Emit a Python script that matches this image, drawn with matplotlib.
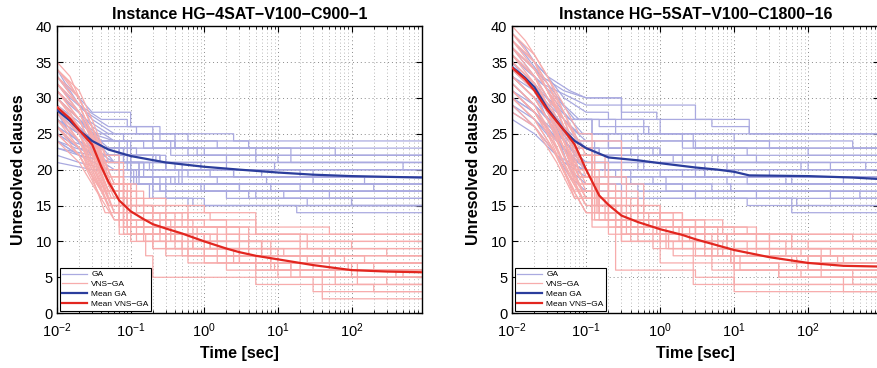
import matplotlib
matplotlib.use("Agg")
import matplotlib.pyplot as plt
from matplotlib.ticker import LogLocator, MultipleLocator

plt.rcParams['font.family'] = ['Liberation Sans', 'DejaVu Sans']
plt.rcParams['mathtext.default'] = 'regular'

T_END = 900

# ---- instance 1: HG-4SAT-V100-C900-1 ----
# each run: (time, unresolved clauses) breakpoints
ga_runs_1 = [
    [(0.01, 33), (0.014, 31), (0.02, 29), (0.04, 27), (0.09, 26), (0.25, 25), (2.5, 24)],
    [(0.01, 31), (0.015, 29), (0.025, 27), (0.05, 25), (0.2, 24), (1.5, 23)],
    [(0.01, 30), (0.02, 27), (0.035, 25), (0.08, 24), (0.4, 23), (15, 22)],
    [(0.01, 29), (0.018, 27), (0.03, 25), (0.06, 24), (0.15, 23), (0.6, 22)],
    [(0.01, 28), (0.016, 26), (0.03, 24), (0.1, 23), (0.8, 22), (5, 21)],
    [(0.01, 27), (0.02, 25), (0.04, 23), (0.12, 22), (0.3, 21)],
    [(0.01, 26), (0.015, 24), (0.03, 23), (0.07, 22), (0.25, 21), (2, 20)],
    [(0.01, 25), (0.02, 23), (0.05, 22), (0.2, 21), (0.5, 20)],
    [(0.01, 24), (0.018, 23), (0.04, 22), (0.1, 21), (0.3, 20), (20, 19)],
    [(0.01, 23), (0.02, 22), (0.06, 21), (0.15, 20), (1.2, 19)],
    [(0.01, 32), (0.02, 28), (0.03, 25), (0.05, 23), (0.1, 21), (0.18, 20), (0.6, 19), (30, 18)],
    [(0.01, 27), (0.02, 24), (0.04, 22), (0.09, 20), (0.2, 19), (0.5, 18)],
    [(0.01, 29), (0.02, 26), (0.04, 23), (0.08, 21), (0.13, 19), (0.35, 18), (8, 17)],
    [(0.01, 25), (0.02, 23), (0.05, 21), (0.1, 19), (0.2, 17)],
    [(0.01, 30), (0.02, 27), (0.035, 24), (0.06, 21), (0.1, 19), (0.25, 17), (2, 16)],
    [(0.01, 26), (0.02, 24), (0.04, 22), (0.07, 20), (0.13, 18), (0.3, 16), (1, 15)],
    [(0.01, 22), (0.02, 21), (0.05, 20), (0.12, 18), (0.2, 16), (0.6, 15)],
    [(0.01, 28), (0.015, 25), (0.03, 22), (0.06, 20), (0.11, 18), (0.18, 16), (0.7, 15), (18, 14)],
    [(0.01, 21), (0.03, 20), (0.08, 19), (0.2, 18), (3, 17)],
    [(0.01, 24), (0.02, 22), (0.05, 20), (0.1, 18), (0.25, 17), (4, 16), (100, 15)],
    [(0.01, 34), (0.013, 32), (0.02, 30), (0.03, 28), (0.1, 26), (0.2, 25), (0.4, 23), (5, 22), (15, 21)],
    [(0.01, 31), (0.02, 28), (0.03, 26), (0.06, 24), (0.2, 23), (1, 22), (10, 21), (500, 20)],
    [(0.01, 23), (0.03, 22), (0.1, 21), (0.3, 20), (2.5, 19), (150, 18)],
    [(0.01, 27), (0.02, 25), (0.04, 23), (0.08, 21), (0.3, 20), (6, 19)],
    [(0.01, 32), (0.015, 30), (0.025, 28), (0.05, 26), (0.12, 25), (0.6, 24), (4, 23), (60, 22)],
    [(0.01, 29), (0.02, 26), (0.03, 24), (0.07, 22), (0.25, 21), (0.9, 20), (30, 19)],
    [(0.01, 26), (0.02, 24), (0.05, 21), (0.15, 20), (0.5, 19), (1.5, 18), (20, 17)],
    [(0.01, 30), (0.02, 27), (0.04, 24), (0.09, 22), (0.22, 21), (0.4, 20), (2.5, 19), (7, 18), (200, 17)],
    [(0.01, 28), (0.02, 25), (0.03, 23), (0.06, 21), (0.2, 20), (0.45, 18), (1, 17), (12, 16)],
    [(0.01, 24), (0.02, 22), (0.05, 21), (0.13, 19), (0.3, 18), (3, 17), (50, 16), (100, 15)],
    [(0.01, 33), (0.015, 31), (0.02, 29), (0.03, 27), (0.06, 25), (0.25, 24), (0.35, 22), (2, 21), (9, 20)],
    [(0.01, 27), (0.02, 25), (0.035, 23), (0.07, 21), (0.15, 19), (0.4, 18), (0.9, 17), (5, 16), (25, 15)],
]
vns_runs_1 = [
    [(0.01, 35), (0.015, 33), (0.02, 30), (0.03, 26), (0.04, 22), (0.06, 18), (0.1, 15), (0.3, 13), (1, 12), (5, 11)],
    [(0.01, 34), (0.015, 32), (0.025, 28), (0.035, 24), (0.05, 20), (0.08, 16), (0.15, 14), (0.6, 12), (3, 10)],
    [(0.01, 33), (0.02, 30), (0.03, 26), (0.045, 21), (0.07, 17), (0.12, 14), (0.4, 12), (2, 10), (25, 9)],
    [(0.01, 32), (0.02, 29), (0.03, 25), (0.05, 19), (0.08, 15), (0.2, 12), (0.8, 10), (6, 9), (60, 8)],
    [(0.01, 31), (0.02, 28), (0.035, 23), (0.05, 18), (0.09, 14), (0.25, 11), (1.5, 9), (12, 8)],
    [(0.01, 30), (0.02, 27), (0.03, 23), (0.045, 19), (0.06, 16), (0.1, 13), (0.35, 11), (1.2, 9), (8, 7)],
    [(0.01, 29), (0.02, 26), (0.03, 22), (0.05, 17), (0.08, 13), (0.2, 11), (0.7, 9), (4, 8), (40, 7)],
    [(0.01, 28), (0.02, 25), (0.035, 20), (0.05, 16), (0.07, 13), (0.15, 11), (0.5, 9), (2.5, 7), (30, 6)],
    [(0.01, 27), (0.02, 24), (0.03, 20), (0.05, 15), (0.08, 12), (0.25, 10), (1, 8), (5, 7), (90, 6)],
    [(0.01, 26), (0.02, 23), (0.03, 19), (0.045, 14), (0.07, 11), (0.2, 9), (0.6, 7), (9, 6)],
    [(0.01, 25), (0.02, 22), (0.04, 17), (0.06, 13), (0.1, 10), (0.3, 8), (2, 6), (20, 5)],
    [(0.01, 30), (0.015, 28), (0.025, 24), (0.04, 19), (0.06, 14), (0.09, 11), (0.16, 8), (0.2, 5)],
    [(0.01, 31), (0.02, 27), (0.03, 23), (0.05, 17), (0.08, 12), (0.15, 10), (0.6, 8), (5, 6), (40, 5), (300, 4)],
    [(0.01, 29), (0.02, 25), (0.035, 19), (0.05, 15), (0.1, 11), (0.4, 9), (1.5, 7), (5, 4)],
    [(0.01, 28), (0.02, 24), (0.03, 21), (0.05, 16), (0.09, 12), (0.3, 9), (3, 7), (15, 5), (30, 3)],
    [(0.01, 27), (0.02, 23), (0.04, 17), (0.07, 12), (0.2, 9), (1, 7), (10, 5), (40, 2)],
    [(0.01, 33), (0.02, 29), (0.03, 25), (0.06, 18), (0.1, 15), (0.2, 14), (1.2, 13), (5, 11), (25, 10)],
    [(0.01, 32), (0.02, 28), (0.03, 24), (0.05, 18), (0.1, 14), (0.5, 12), (4, 10), (100, 9)],
    [(0.01, 26), (0.02, 22), (0.04, 16), (0.08, 11), (0.3, 9), (2, 8), (50, 7), (200, 6)],
    [(0.01, 24), (0.02, 21), (0.03, 18), (0.06, 13), (0.12, 10), (0.5, 8), (8, 6), (60, 4), (200, 3)],
    [(0.01, 34), (0.02, 31), (0.03, 27), (0.05, 21), (0.08, 17), (0.15, 15), (0.6, 13), (2, 11), (20, 8), (150, 7)],
    [(0.01, 30), (0.02, 26), (0.035, 21), (0.055, 16), (0.09, 13), (0.3, 11), (1, 10), (3, 8), (50, 6)],
    [(0.01, 34), (0.02, 30), (0.03, 26), (0.045, 22), (0.07, 18), (0.12, 16), (0.3, 15), (1, 14), (5, 12), (50, 11)],
    [(0.01, 32), (0.02, 28), (0.03, 24), (0.05, 19), (0.08, 15), (0.2, 13), (0.7, 11), (3, 10), (8, 9), (300, 8)],
    [(0.01, 29), (0.02, 25), (0.03, 22), (0.05, 17), (0.09, 14), (0.3, 12), (1.5, 10), (6, 8), (80, 7)],
    [(0.01, 28), (0.02, 24), (0.04, 18), (0.06, 14), (0.1, 12), (0.4, 10), (2, 8), (20, 6), (500, 5)],
    [(0.01, 31), (0.02, 27), (0.03, 23), (0.05, 18), (0.07, 15), (0.15, 12), (0.6, 10), (4, 9), (40, 7), (100, 5)],
    [(0.01, 26), (0.02, 23), (0.03, 20), (0.05, 15), (0.09, 12), (0.35, 10), (1.2, 9), (10, 7), (120, 4)],
    [(0.01, 33), (0.02, 29), (0.035, 23), (0.06, 17), (0.1, 13), (0.25, 11), (1, 10), (6, 8), (25, 7)],
    [(0.01, 25), (0.02, 22), (0.04, 17), (0.07, 13), (0.15, 11), (0.7, 9), (3, 7), (15, 6), (400, 5)],
]
mean_t_1 = [0.01, 0.015, 0.02, 0.03, 0.05, 0.1, 0.3, 1, 3, 10, 30, 100, 900]
mean_ga_1 = [28.3, 26.8, 25.5, 24.0, 22.8, 21.9, 21.0, 20.4, 20.0, 19.6, 19.3, 19.1, 18.9]
mean_vt_1 = [0.01, 0.015, 0.02, 0.03, 0.04, 0.05, 0.07, 0.1, 0.15, 0.2, 0.3, 0.5,
             1, 2, 3, 5, 10, 30, 100, 300, 900]
mean_vns_1 = [28.7, 27.1, 25.5, 23.5, 20.4, 18.3, 15.7, 14.2, 13.1, 12.4, 11.8, 11.1,
              10.0, 9.0, 8.5, 8.0, 7.5, 6.7, 6.0, 5.8, 5.7]

# ---- instance 2: HG-5SAT-V100-C1800-16 ----
ga_runs_2 = [
    [(0.01, 39), (0.015, 37), (0.02, 35), (0.03, 33), (0.06, 31), (0.1, 30), (0.3, 29), (3, 27), (16, 25)],
    [(0.01, 38), (0.02, 35), (0.03, 33), (0.05, 30), (0.1, 28), (0.2, 27), (0.6, 25), (2.8, 23)],
    [(0.01, 37), (0.02, 34), (0.03, 32), (0.05, 29), (0.08, 27), (0.25, 25)],
    [(0.01, 36), (0.02, 33), (0.04, 30), (0.07, 27), (0.12, 25), (0.3, 24), (2, 23), (15, 22)],
    [(0.01, 35), (0.02, 32), (0.035, 29), (0.06, 26), (0.1, 24), (0.3, 23), (1, 22), (20, 21)],
    [(0.01, 34), (0.02, 31), (0.03, 28), (0.05, 25), (0.1, 23), (0.4, 22), (6, 21), (200, 20)],
    [(0.01, 33), (0.02, 30), (0.04, 27), (0.07, 24), (0.13, 22), (0.5, 21), (3, 20)],
    [(0.01, 32), (0.02, 29), (0.03, 27), (0.06, 23), (0.1, 21), (0.2, 20), (2, 19), (60, 18)],
    [(0.01, 31), (0.02, 28), (0.04, 24), (0.08, 21), (0.18, 20), (1, 19)],
    [(0.01, 30), (0.02, 27), (0.035, 24), (0.05, 21), (0.1, 20), (0.3, 19), (8, 18)],
    [(0.01, 29), (0.02, 26), (0.04, 22), (0.09, 20), (0.2, 18), (0.5, 17)],
    [(0.01, 35), (0.02, 31), (0.03, 27), (0.05, 22), (0.07, 19), (0.12, 17), (0.3, 16)],
    [(0.01, 33), (0.02, 30), (0.04, 25), (0.06, 20), (0.1, 18), (0.3, 17), (3, 16), (15, 15)],
    [(0.01, 28), (0.02, 26), (0.04, 22), (0.06, 19), (0.1, 17), (0.2, 16), (60, 14)],
    [(0.01, 27), (0.02, 25), (0.05, 21), (0.1, 19), (0.35, 18), (5, 17)],
    [(0.01, 36), (0.015, 34), (0.025, 32), (0.04, 31), (0.1, 29), (0.3, 27), (1, 25), (10, 24), (400, 23)],
    [(0.01, 37), (0.02, 33), (0.03, 30), (0.06, 27), (0.12, 25), (0.5, 24), (3, 23), (100, 22)],
    [(0.01, 32), (0.02, 29), (0.04, 26), (0.07, 23), (0.15, 22), (2, 21), (80, 20)],
    [(0.01, 30), (0.02, 28), (0.04, 25), (0.08, 22), (0.2, 21), (4, 19), (300, 18)],
    [(0.01, 34), (0.02, 31), (0.03, 28), (0.05, 24), (0.1, 21), (0.3, 20), (10, 19)],
    [(0.01, 31), (0.02, 28), (0.035, 25), (0.06, 22), (0.1, 20), (0.4, 19), (1.2, 17), (500, 16)],
    [(0.01, 35), (0.02, 32), (0.03, 29), (0.05, 26), (0.1, 23), (0.15, 22), (1.5, 21), (8, 20), (30, 19)],
    [(0.01, 38), (0.015, 36), (0.025, 33), (0.05, 31), (0.1, 30), (0.3, 28), (0.9, 27), (5, 26), (16, 25)],
    [(0.01, 36), (0.02, 33), (0.03, 30), (0.06, 27), (0.15, 26), (0.7, 25), (2, 24), (30, 23)],
    [(0.01, 33), (0.02, 31), (0.04, 28), (0.08, 25), (0.2, 23), (1, 22), (5, 21), (100, 20)],
    [(0.01, 31), (0.02, 29), (0.04, 26), (0.07, 23), (0.13, 21), (0.6, 20), (3, 19), (15, 18)],
    [(0.01, 34), (0.02, 31), (0.035, 27), (0.06, 23), (0.1, 20), (0.25, 19), (0.8, 18), (9, 17), (200, 16)],
    [(0.01, 29), (0.02, 27), (0.04, 24), (0.07, 21), (0.12, 19), (0.4, 18), (2, 17), (20, 16), (70, 15)],
    [(0.01, 37), (0.02, 34), (0.03, 31), (0.05, 28), (0.09, 25), (0.2, 23), (0.8, 22), (10, 21), (600, 20)],
    [(0.01, 30), (0.02, 28), (0.035, 25), (0.06, 22), (0.12, 21), (0.5, 20), (4, 19), (50, 18)],
]
vns_runs_2 = [
    [(0.01, 40), (0.015, 38), (0.02, 36), (0.03, 33), (0.05, 29), (0.08, 25), (0.12, 21), (0.2, 17), (0.5, 14), (2, 12), (10, 11)],
    [(0.01, 39), (0.02, 36), (0.03, 33), (0.05, 28), (0.08, 23), (0.12, 19), (0.2, 15), (0.6, 13), (3, 11), (30, 10)],
    [(0.01, 38), (0.02, 35), (0.03, 31), (0.05, 27), (0.07, 23), (0.1, 19), (0.15, 16), (0.4, 13), (1.5, 11), (8, 10), (100, 9)],
    [(0.01, 37), (0.02, 34), (0.035, 30), (0.05, 26), (0.08, 21), (0.13, 17), (0.3, 14), (1, 12), (4, 10), (20, 9)],
    [(0.01, 36), (0.02, 33), (0.03, 30), (0.05, 25), (0.07, 21), (0.1, 18), (0.2, 14), (0.7, 12), (2.5, 10), (10, 8)],
    [(0.01, 35), (0.02, 32), (0.03, 29), (0.045, 25), (0.07, 20), (0.12, 16), (0.25, 13), (0.9, 11), (5, 9), (50, 8), (300, 7)],
    [(0.01, 34), (0.02, 31), (0.03, 28), (0.05, 23), (0.08, 18), (0.15, 14), (0.5, 12), (2, 10), (7, 8), (150, 7)],
    [(0.01, 33), (0.02, 30), (0.035, 26), (0.05, 22), (0.08, 17), (0.13, 14), (0.35, 11), (1.2, 9), (9, 7)],
    [(0.01, 32), (0.02, 29), (0.03, 26), (0.05, 21), (0.09, 16), (0.18, 13), (0.6, 11), (3, 8), (12, 6)],
    [(0.01, 31), (0.02, 28), (0.04, 23), (0.06, 19), (0.1, 15), (0.25, 12), (1, 10), (2.8, 4)],
    [(0.01, 30), (0.02, 27), (0.035, 23), (0.06, 18), (0.1, 14), (0.2, 11), (0.8, 9), (5, 7), (40, 5)],
    [(0.01, 29), (0.02, 26), (0.04, 21), (0.07, 16), (0.12, 12), (0.3, 10), (1.5, 8), (10, 6), (80, 5), (300, 3)],
    [(0.01, 38), (0.02, 34), (0.03, 31), (0.05, 26), (0.08, 20), (0.15, 15), (0.3, 11), (2, 9), (10, 3)],
    [(0.01, 33), (0.02, 30), (0.03, 27), (0.05, 23), (0.08, 19), (0.12, 15), (0.3, 12), (1.8, 10), (15, 8), (70, 6)],
    [(0.01, 36), (0.02, 33), (0.03, 29), (0.05, 24), (0.09, 19), (0.14, 15), (0.35, 13), (3, 11), (30, 9), (200, 8)],
    [(0.01, 34), (0.02, 31), (0.035, 27), (0.06, 21), (0.1, 16), (0.2, 12), (0.5, 10), (4, 8), (60, 7)],
    [(0.01, 28), (0.02, 26), (0.04, 22), (0.07, 17), (0.13, 13), (0.3, 10), (1, 7), (5, 6), (400, 4)],
    [(0.01, 37), (0.02, 33), (0.03, 30), (0.05, 27), (0.08, 24), (0.3, 18), (0.6, 14), (2, 12), (20, 10)],
    [(0.01, 31), (0.02, 28), (0.03, 25), (0.05, 20), (0.07, 16), (0.12, 13), (0.4, 10), (6, 8), (100, 6)],
    [(0.01, 35), (0.02, 32), (0.04, 27), (0.06, 22), (0.1, 17), (0.15, 13), (0.25, 6), (3, 5), (10, 4)],
    [(0.01, 32), (0.02, 29), (0.035, 24), (0.06, 19), (0.1, 15), (0.3, 12), (1.2, 11), (8, 9), (150, 7)],
    [(0.01, 39), (0.02, 35), (0.03, 32), (0.05, 27), (0.08, 22), (0.13, 18), (0.25, 15), (1, 13), (7, 11), (60, 9)],
    [(0.01, 37), (0.02, 34), (0.03, 31), (0.05, 26), (0.08, 22), (0.12, 18), (0.2, 16), (0.5, 14), (1.5, 12), (15, 11), (400, 10)],
    [(0.01, 35), (0.02, 32), (0.035, 28), (0.05, 24), (0.08, 19), (0.13, 16), (0.3, 14), (1, 12), (6, 10), (50, 9)],
    [(0.01, 33), (0.02, 30), (0.03, 27), (0.05, 22), (0.09, 17), (0.15, 14), (0.4, 12), (2, 11), (20, 8), (250, 7)],
    [(0.01, 31), (0.02, 28), (0.04, 24), (0.06, 20), (0.1, 16), (0.2, 13), (0.8, 11), (4, 9), (30, 8), (100, 6)],
    [(0.01, 36), (0.02, 32), (0.03, 29), (0.05, 24), (0.08, 19), (0.12, 15), (0.25, 12), (1, 10), (5, 8), (150, 5)],
    [(0.01, 30), (0.02, 27), (0.035, 23), (0.06, 18), (0.1, 14), (0.3, 11), (1.3, 9), (9, 7), (40, 5)],
    [(0.01, 34), (0.02, 31), (0.03, 28), (0.05, 23), (0.08, 18), (0.14, 14), (0.4, 12), (3, 10), (10, 9), (80, 8)],
    [(0.01, 38), (0.02, 35), (0.03, 32), (0.05, 28), (0.07, 25), (0.1, 22), (0.18, 19), (0.35, 15), (1, 13), (4, 11), (60, 10)],
]
mean_t_2 = [0.01, 0.015, 0.02, 0.03, 0.05, 0.07, 0.1, 0.2, 0.5, 1, 3, 6, 10, 16, 100, 400, 900]
mean_ga_2 = [34.3, 32.8, 31.5, 28.5, 25.5, 24.0, 23.0, 21.7, 21.3, 20.9, 20.3, 20.0, 19.7, 19.2, 19.1, 18.9, 18.7]
mean_vt_2 = [0.01, 0.015, 0.02, 0.03, 0.05, 0.07, 0.1, 0.15, 0.2, 0.3, 0.5, 1, 2, 3, 10, 30, 100, 300, 900]
mean_vns_2 = [34.2, 32.6, 31.0, 28.3, 25.5, 23.5, 20.0, 16.4, 15.1, 13.6, 12.7, 11.7, 10.9, 10.3, 8.8, 7.8, 7.0, 6.6, 6.5]

titles = ['Instance HG\u22124SAT\u2212V100\u2212C900\u22121',
          'Instance HG\u22125SAT\u2212V100\u2212C1800\u221216']

GA_LIGHT = '#aaaae0'
VNS_LIGHT = '#f7acac'
GA_MEAN = '#2b3d9c'
VNS_MEAN = '#e2261f'


def draw_runs(ax, runs, color, t_diag):
    # dense early improvements look like slopes, later ones are clear steps
    for run in runs:
        t, v = [run[0][0]], [run[0][1]]
        for tt, vv in run[1:]:
            if tt > t_diag:
                t.append(tt)
                v.append(v[-1])
            t.append(tt)
            v.append(vv)
        t.append(T_END)
        v.append(v[-1])
        ax.plot(t, v, color=color, lw=0.9, zorder=2)


fig = plt.figure(figsize=(8.77, 3.68), dpi=100)
positions = [[0.065, 0.149, 0.416, 0.78], [0.584, 0.149, 0.418, 0.78]]
panels = [
    (ga_runs_1, vns_runs_1, mean_t_1, mean_ga_1, mean_vt_1, mean_vns_1, 0.06),
    (ga_runs_2, vns_runs_2, mean_t_2, mean_ga_2, mean_vt_2, mean_vns_2, 0.1),
]

for i, (ga, vns, mt, mga, mvt, mvns, t_diag) in enumerate(panels):
    ax = fig.add_axes(positions[i])
    draw_runs(ax, ga, GA_LIGHT, t_diag)
    draw_runs(ax, vns, VNS_LIGHT, t_diag)
    ax.plot(mt, mga, color=GA_MEAN, lw=1.6, zorder=4)
    ax.plot(mvt, mvns, color=VNS_MEAN, lw=1.6, zorder=4)

    ax.set_xscale('log')
    ax.set_xlim(0.01, T_END)
    ax.set_ylim(0, 40)
    ax.yaxis.set_major_locator(MultipleLocator(5))
    ax.xaxis.set_major_locator(LogLocator(base=10, numticks=10))
    ax.xaxis.set_minor_locator(LogLocator(base=10, subs=range(2, 10), numticks=10))
    ax.grid(True, which='major', ls=(0, (1, 3)), color='#8a8a8a', lw=0.7)
    ax.grid(True, which='minor', axis='x', ls=(0, (1, 3)), color='#a0a0a0', lw=0.6)
    ax.set_axisbelow(True)
    ax.tick_params(which='both', direction='in', top=True, right=True)
    ax.tick_params(which='major', labelsize=10.5, length=4)
    ax.tick_params(axis='x', which='major', pad=6)
    ax.tick_params(which='minor', length=2)
    for s in ax.spines.values():
        s.set_linewidth(1.0)

    ax.set_title(titles[i], fontsize=11.5, fontweight='bold', pad=5)
    ax.set_xlabel('Time [sec]', fontsize=11.5, fontweight='bold', labelpad=4)
    ax.set_ylabel('Unresolved clauses', fontsize=11.5, fontweight='bold', labelpad=7)

    handles = [
        plt.Line2D([], [], color=GA_LIGHT, lw=0.9),
        plt.Line2D([], [], color=VNS_LIGHT, lw=0.9),
        plt.Line2D([], [], color=GA_MEAN, lw=1.6),
        plt.Line2D([], [], color=VNS_MEAN, lw=1.6),
    ]
    leg = ax.legend(handles, ['GA', 'VNS\u2212GA', 'Mean GA', 'Mean VNS\u2212GA'],
                    loc='lower left', fontsize=6, fancybox=False, framealpha=1,
                    edgecolor='black', handlelength=3.0, labelspacing=0.25,
                    borderaxespad=0.3, handletextpad=0.5, borderpad=0.3)
    leg.get_frame().set_linewidth(0.8)
    leg.set_zorder(10)

fig.savefig('out.png', dpi=100)
